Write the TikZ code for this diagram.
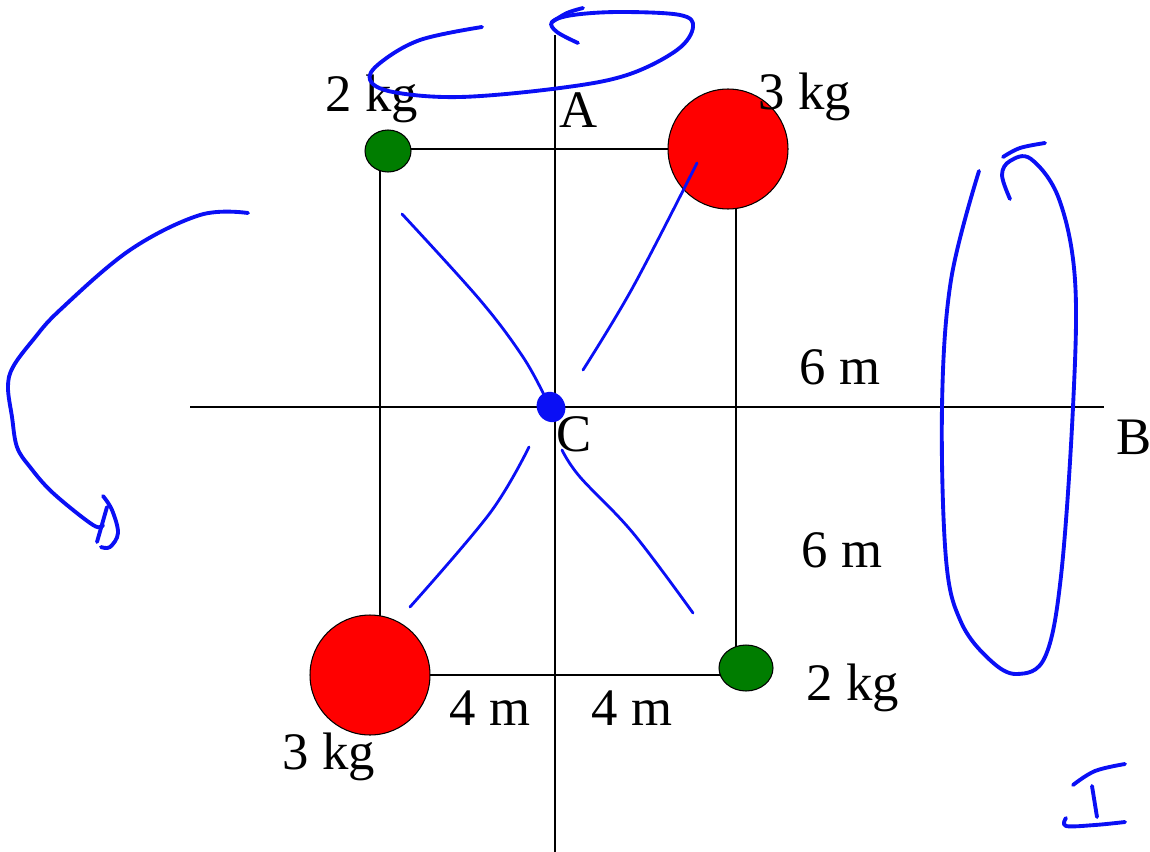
\documentclass[tikz,border=0pt]{standalone}
\usepackage{fontspec}
\setmainfont{Liberation Serif}
\usetikzlibrary{positioning,shapes.geometric,calc}
\definecolor{penblue}{RGB}{10,15,245}
\definecolor{massgreen}{RGB}{0,125,0}
\tikzset{
  axisline/.style={line width=1.1pt, black},
  massred/.style={circle, draw=black, line width=0.6pt, fill=red, minimum size=2.4cm, inner sep=0pt},
  massgrn/.style={ellipse, draw=black, line width=0.6pt, fill=massgreen, inner sep=0pt},
  lbl/.style={font=\rmfamily\fontsize{30}{36}\selectfont, inner sep=0pt},
  pen/.style={penblue, line width=2.2pt, line cap=round, line join=round},
  penthin/.style={penblue, line width=1.6pt, line cap=round, line join=round}
}
\begin{document}
\begin{tikzpicture}[x=0.02cm, y=-0.02cm]
\useasboundingbox (0,0) rectangle (1150,852);
\coordinate (axtop) at (555,35);
\coordinate (axbot) at (555,852);
\coordinate (axleft) at (190,407);
\coordinate (axright) at (1104,407);
\coordinate (k1) at (380,149);
\coordinate (k2) at (736,149);
\coordinate (k3) at (736,675);
\coordinate (k4) at (380,675);
\draw[axisline] (axtop) -- (axbot);
\draw[axisline] (axleft) -- (axright);
\draw[axisline] (k1) -- (k2) -- (k3) -- (k4) -- cycle;
\node[massgrn, minimum width=0.92cm, minimum height=0.84cm] (tl) at (388,151) {};
\node[massred] (tr) at (728,149) {};
\node[massred] (bl) at (370,675) {};
\node[massgrn, minimum width=1.08cm, minimum height=0.92cm] (br) at (746,668) {};
\node[lbl] (tlkg) at (372,99) {2 kg};
\node[lbl] (trkg) at (805,97) {3 kg};
\node[lbl] (blkg) at (329,757) {3 kg};
\node[lbl] (brkg) at (853,688) {2 kg};
\node[lbl] (la) at (579,110) {A};
\node[lbl] (lb) at (1134,437) {B};
\node[lbl] (lc) at (574,434) {C};
\node[lbl] (up6) at (840,367) {6 m};
\node[lbl] (dn6) at (842,550) {6 m};
\node[lbl] (lt4) at (490,708) {4 m};
\node[lbl] (rt4) at (632,708) {4 m};
\node[ellipse, fill=penblue, minimum width=0.56cm, minimum height=0.62cm, inner sep=0pt, rotate=30] (ctr) at (551,407) {};
\draw[penthin] plot[smooth, tension=0.6] coordinates {(402,214) (480,300) (523,357) (545,397)};
\draw[penthin] plot[smooth, tension=0.6] coordinates {(583,370) (633,287) (697,163)};
\draw[penthin] plot[smooth, tension=0.6] coordinates {(529,447) (490,513) (410,607)};
\draw[penthin] plot[smooth, tension=0.6] coordinates {(562,450) (580,477) (633,533) (693,613)};
\draw[pen] plot[smooth, tension=0.6] coordinates {(482,27) (420,40) (380,63) (370,80) (393,92) (460,97) (560,88) (627,75) (677,50) (693,27) (680,15) (620,12) (573,15) (552,22) (557,32) (578,43)};
\draw[pen] plot[smooth, tension=0.6] coordinates {(552,22) (567,13) (583,8)};
\draw[pen] plot[smooth, tension=0.6] coordinates {(248,213) (200,215) (130,250) (60,310) (33,340) (13,367) (8,387) (12,417) (17,447) (30,467) (53,493) (93,525) (103,525)};
\draw[pen] plot[smooth, tension=0.6] coordinates {(103,496) (112,510) (118,533) (110,547) (101,547)};
\draw[pen] (107,507) -- (97,542);
\draw[pen] plot[smooth, tension=0.6] coordinates {(979,171) (951,280) (942,407) (946,559) (961,622) (990,660) (1017,674) (1045,657) (1061,576) (1073,407) (1075,280) (1059,199) (1031,159) (1010,161) (1002,175) (1010,199)};
\draw[pen] plot[smooth, tension=0.6] coordinates {(1003,157) (1020,148) (1045,143)};
\draw[pen] plot[smooth, tension=0.6] coordinates {(1073,785) (1095,771) (1125,764)};
\draw[pen] (1092,786) -- (1097,817);
\draw[pen] plot[smooth, tension=0.6] coordinates {(1066,818) (1066,826) (1095,825) (1125,822)};
\end{tikzpicture}
\end{document}
